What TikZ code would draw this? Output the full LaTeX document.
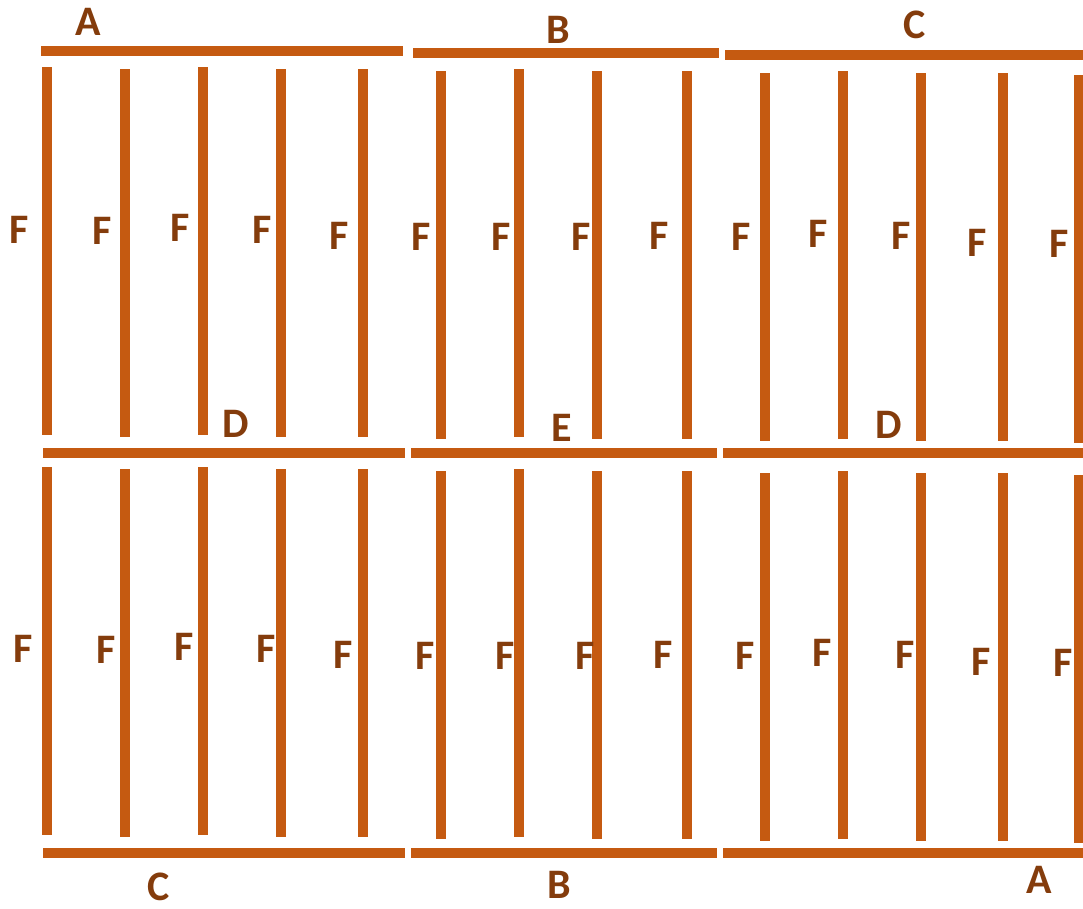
\documentclass[tikz,border=0pt]{standalone}
\usepackage{fontspec}
\setmainfont{Carlito}
\definecolor{woodorange}{RGB}{197,90,17}
\definecolor{woodbrown}{RGB}{132,60,12}

\begin{document}
\begin{tikzpicture}[
    x=1pt, y=-1pt,
    bar/.style={draw=woodorange, line width=10.5pt},
    lbl/.style={text=woodbrown, font=\fontsize{42}{48}\selectfont\bfseries, inner sep=0pt}
  ]
    \useasboundingbox (0,0) rectangle (1083,908);
    % horizontal bars
    \draw[bar] (41,51) -- (403,51);
    \draw[bar] (413,53) -- (719,53);
    \draw[bar] (725,55) -- (1083,55);
    \draw[bar] (43,453) -- (405,453);
    \draw[bar] (411,453) -- (717,453);
    \draw[bar] (723,453) -- (1083,453);
    \draw[bar] (43,853) -- (405,853);
    \draw[bar] (411,853) -- (717,853);
    \draw[bar] (723,853) -- (1083,853);
    % vertical bars, upper and lower rows
    \foreach \x/\y in {47/67,125/69,203/67,281/69,363/69,441/71,519/69,597/71,687/71,765/73,843/71,921/73,1003/73,1079/75}{
      \draw[bar] (\x,\y) -- (\x,\y+368);
      \draw[bar] (\x,\y+400) -- (\x,\y+768);
    }
    % edge labels
    \node[lbl] (a1) at (88,22) {A};
    \node[lbl] (b1) at (558,30) {B};
    \node[lbl] (c1) at (915,25) {C};
    \node[lbl] (d1) at (236,424) {D};
    \node[lbl] (e1) at (562,428) {E};
    \node[lbl] (d2) at (889,425) {D};
    \node[lbl] (c2) at (159,887) {C};
    \node[lbl] (b2) at (559,885) {B};
    \node[lbl] (a2) at (1039,880) {A};
    % face labels
    \foreach \x/\y [count=\i] in {19/230,102/231,180/228,262/230,339/236,421/237,501/237,581/237,659/236,741/237,818/234,901/236,977/243,1059/244}{
      \node[lbl] (fu\i) at (\x,\y) {F};
      \node[lbl] (fl\i) at (\x+4,\y+419) {F};
    }
  \end{tikzpicture}
\end{document}
